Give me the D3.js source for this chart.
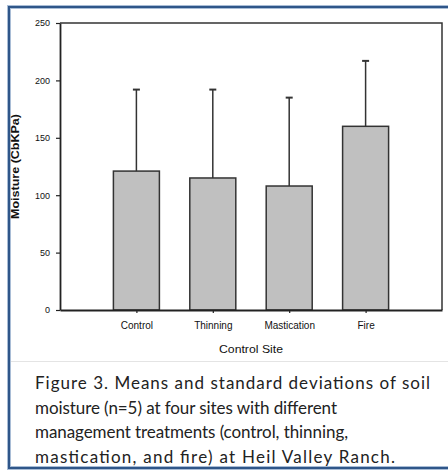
<!DOCTYPE html>
<html>
<head>
<meta charset="utf-8">
<script src="https://cdn.jsdelivr.net/npm/d3@7"></script>
<style>
  body { margin: 0; background: #fff; }
  svg { display: block; }
</style>
</head>
<body>
<div id="chart"></div>
<script>
// data
var sites = ["Control", "Thinning", "Mastication", "Fire"];
var means = [121, 115, 108, 160];
var sds = [71, 77, 77, 57];
var yTicks = [0, 50, 100, 150, 200, 250];
var caption = [
    "Figure 3. Means and standard deviations of soil",
    "moisture (n=5) at four sites with  different",
    "management treatments (control, thinning,",
    "mastication,  and fire) at Heil Valley Ranch."
];
var captionWidths = [395, 302, 313, 360];

var W = 448, H = 472;
var margin = { top: 23, right: 6, bottom: 162, left: 60 },
    width = W - margin.left - margin.right,
    height = H - margin.top - margin.bottom;

var svg = d3.select("#chart")
    .append("svg")
    .attr("width", W)
    .attr("height", H);

// blue page frame
svg.append("rect")
    .attr("x", 9).attr("y", 7)
    .attr("width", W + 10).attr("height", 461)
    .attr("fill", "none")
    .attr("stroke", "#a9bdd6")
    .attr("stroke-width", 4);
svg.append("rect")
    .attr("x", 9).attr("y", 7)
    .attr("width", W + 10).attr("height", 461)
    .attr("fill", "none")
    .attr("stroke", "#2f5689")
    .attr("stroke-width", 2);

// faint divider above caption
svg.append("line")
    .attr("x1", 11).attr("x2", W)
    .attr("y1", 361.5).attr("y2", 361.5)
    .attr("stroke", "#e4e4e4")
    .attr("stroke-width", 1);

var g = svg.append("g")
    .attr("transform", "translate(" + margin.left + "," + margin.top + ")");

var x = d3.scalePoint()
    .domain(sites)
    .range([0, width])
    .padding(1);

var y = d3.scaleLinear()
    .domain([0, 250])
    .range([height, 0]);

var barW = 46;

// bars
g.selectAll(".bar")
    .data(sites)
    .enter()
    .append("rect")
    .attr("class", "bar")
    .attr("x", function(d) { return x(d) - barW / 2; })
    .attr("y", function(d, i) { return y(means[i]); })
    .attr("width", barW)
    .attr("height", function(d, i) { return height - y(means[i]); })
    .attr("fill", "#c0c0c0")
    .attr("stroke", "#333")
    .attr("stroke-width", 1.5);

// error bars (upper only)
g.selectAll(".err")
    .data(sites)
    .enter()
    .append("line")
    .attr("x1", function(d) { return x(d); })
    .attr("x2", function(d) { return x(d); })
    .attr("y1", function(d, i) { return y(means[i]); })
    .attr("y2", function(d, i) { return y(means[i] + sds[i]); })
    .attr("stroke", "#333")
    .attr("stroke-width", 1.5);

g.selectAll(".cap")
    .data(sites)
    .enter()
    .append("line")
    .attr("x1", function(d) { return x(d) - 3.5; })
    .attr("x2", function(d) { return x(d) + 3.5; })
    .attr("y1", function(d, i) { return y(means[i] + sds[i]); })
    .attr("y2", function(d, i) { return y(means[i] + sds[i]); })
    .attr("stroke", "#333")
    .attr("stroke-width", 2);

// frame of the plot
g.append("path")
    .attr("d", "M0,0H" + width + "V" + height)
    .attr("fill", "none")
    .attr("stroke", "#333")
    .attr("stroke-width", 1.5);

// axes
var yAxis = g.append("g")
    .attr("class", "myYaxis")
    .call(d3.axisLeft(y).tickValues(yTicks).tickSize(4).tickSizeOuter(0).tickPadding(6));

var xAxis = g.append("g")
    .attr("class", "myXaxis")
    .attr("transform", "translate(0," + height + ")")
    .call(d3.axisBottom(x).tickSize(3).tickSizeOuter(0).tickPadding(9));

g.selectAll(".domain").attr("stroke", "#222").attr("stroke-width", 1.8);
g.selectAll(".tick line").attr("stroke", "#222").attr("stroke-width", 1.2);
g.selectAll(".tick text")
    .attr("font-family", "Liberation Sans, Arial, sans-serif")
    .attr("font-size", 9)
    .attr("fill", "#111");
xAxis.selectAll(".tick text").attr("font-size", 10);

// axis titles
g.append("text")
    .attr("transform", "translate(" + (-41) + "," + (height / 2) + ") rotate(-90)")
    .attr("text-anchor", "middle")
    .attr("font-family", "Liberation Sans, Arial, sans-serif")
    .attr("font-weight", "bold")
    .attr("font-size", 10.5)
    .attr("textLength", 105)
    .attr("lengthAdjust", "spacingAndGlyphs")
    .attr("fill", "#111")
    .text("Moisture (CbKPa)");

g.append("text")
    .attr("x", width / 2)
    .attr("y", height + 43)
    .attr("text-anchor", "middle")
    .attr("font-family", "Liberation Sans, Arial, sans-serif")
    .attr("font-size", 11)
    .attr("textLength", 64)
    .attr("lengthAdjust", "spacingAndGlyphs")
    .attr("fill", "#111")
    .text("Control Site");

// caption
svg.selectAll(".caption")
    .data(caption)
    .enter()
    .append("text")
    .attr("class", "caption")
    .attr("x", 35)
    .attr("y", function(d, i) { return 389 + i * 24.6; })
    .attr("textLength", function(d, i) { return captionWidths[i]; })
    .attr("lengthAdjust", "spacing")
    .attr("font-family", "Lato, Open Sans, sans-serif")
    .attr("font-size", 17)
    .attr("fill", "#222")
    .text(function(d) { return d; });
</script>
</body>
</html>
